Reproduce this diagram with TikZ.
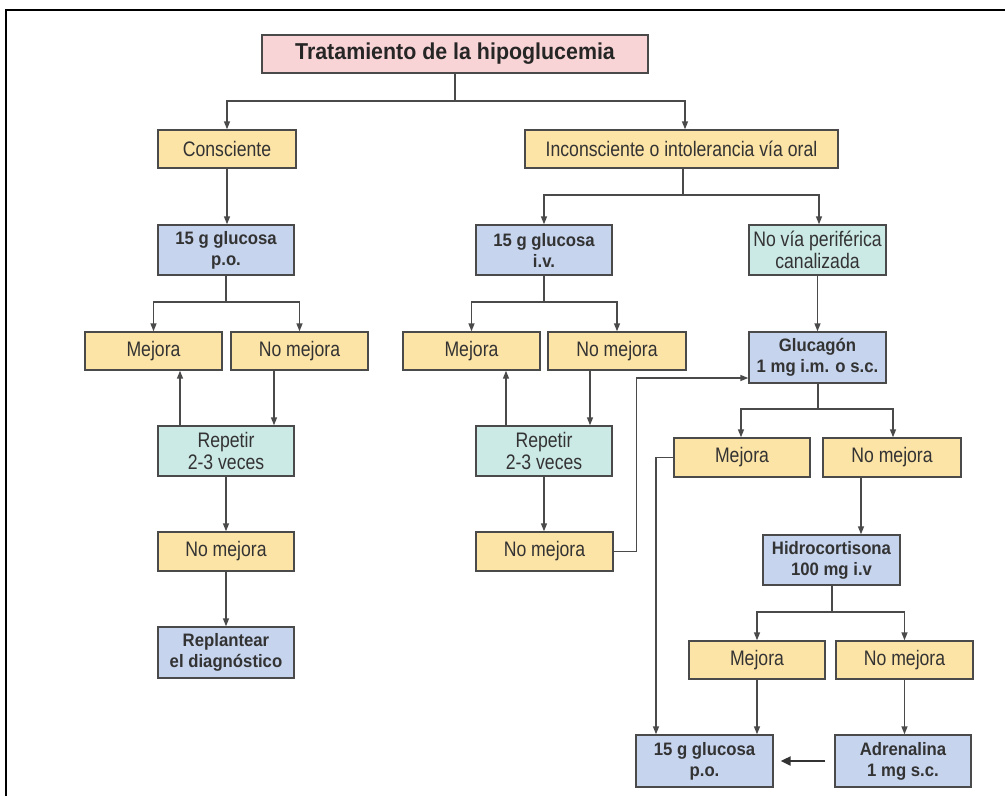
\documentclass[tikz,border=0pt]{standalone}
\usepackage{fontspec}
\setmainfont{Liberation Sans}[FakeStretch=0.84, BoldFeatures={FakeStretch=0.93}]
\usetikzlibrary{arrows.meta}
\definecolor{yel}{HTML}{FCE3A6}
\definecolor{blu}{HTML}{C6D4EE}
\definecolor{tea}{HTML}{CBE9E5}
\definecolor{pnk}{HTML}{F9D4D6}
\definecolor{edge}{HTML}{4A4A4A}
\definecolor{txt}{HTML}{333333}
\tikzset{
  box/.style={draw=edge, line width=1.4pt, inner sep=0pt, align=center, text=txt,
    font=\fontsize{21}{22}\selectfont},
  ybox/.style={box, fill=yel},
  bbox/.style={box, fill=blu, font=\fontsize{18}{21}\selectfont\bfseries},
  tbox/.style={box, fill=tea},
  ln/.style={draw=edge, line width=1.5pt},
  arr/.style={ln, -{Triangle[length=8pt,width=6pt]}},
  bigarr/.style={draw=txt, line width=2.2pt, -{Triangle[length=10pt,width=9pt]}},
}
\begin{document}
\begin{tikzpicture}[x=1pt,y=-1pt]
\useasboundingbox (0,0) rectangle (1005,796);
\draw[line width=2.2pt] (6,796) -- (6,10) -- (1005,10);
% nodes
\node[box, fill=pnk, minimum width=386pt, minimum height=38pt, font=\fontsize{23}{26}\selectfont\bfseries, text=black!85] (title) at (455,54) {Tratamiento de la hipoglucemia};
\node[ybox, minimum width=138pt, minimum height=38pt] (cons) at (227,149) {Consciente};
\node[ybox, minimum width=313pt, minimum height=38pt] (incons) at (681.5,149) {Inconsciente o intolerancia vía oral};
\node[bbox, minimum width=136pt, minimum height=50pt] (g1) at (226,250) {15 g glucosa\\p.o.};
\node[ybox, minimum width=137pt, minimum height=38pt] (m1) at (153.5,351) {Mejora};
\node[ybox, minimum width=137pt, minimum height=38pt] (nm1) at (299.5,351) {No mejora};
\node[tbox, minimum width=136pt, minimum height=50pt] (rep1) at (226,451) {Repetir\\2-3 veces};
\node[ybox, minimum width=136pt, minimum height=39pt] (nm1b) at (226,551.5) {No mejora};
\node[bbox, minimum width=136pt, minimum height=51pt] (repl) at (226,652.5) {Replantear\\el diagnóstico};
\node[bbox, minimum width=136pt, minimum height=50pt] (g2) at (544,250) {15 g glucosa\\i.v.};
\node[tbox, minimum width=137pt, minimum height=50pt] (nv) at (817.5,250) {No vía periférica\\canalizada};
\node[ybox, minimum width=137pt, minimum height=38pt] (m2) at (471.5,351) {Mejora};
\node[ybox, minimum width=138pt, minimum height=38pt] (nm2) at (617,351) {No mejora};
\node[tbox, minimum width=136pt, minimum height=50pt] (rep2) at (544,451) {Repetir\\2-3 veces};
\node[ybox, minimum width=137pt, minimum height=39pt] (nm2b) at (544.5,551.5) {No mejora};
\node[bbox, minimum width=137pt, minimum height=51pt] (glu) at (817.5,357.5) {Glucagón\\1 mg i.m. o s.c.};
\node[ybox, minimum width=136pt, minimum height=39pt] (m3) at (742,457.5) {Mejora};
\node[ybox, minimum width=138pt, minimum height=39pt] (nm3) at (892,457.5) {No mejora};
\node[bbox, minimum width=137pt, minimum height=50pt] (hid) at (831.5,560) {Hidrocortisona\\100 mg i.v};
\node[ybox, minimum width=136pt, minimum height=38pt] (m4) at (757,660) {Mejora};
\node[ybox, minimum width=137pt, minimum height=38pt] (nm4) at (904.5,660) {No mejora};
\node[bbox, minimum width=137pt, minimum height=52pt] (g3) at (704.5,761) {15 g glucosa\\p.o.};
\node[bbox, minimum width=136pt, minimum height=52pt] (adr) at (903,761) {Adrenalina\\1 mg s.c.};
% junctions
\coordinate (j0) at (455,101);
\coordinate (j1) at (226,302);
\coordinate (j2) at (683,195);
\coordinate (j2b) at (544,302);
\coordinate (j3) at (818,409);
\coordinate (j4) at (832,612);
% connectors
\draw[ln] (title.south -| j0) -- (j0);
\draw[arr] (j0) -| (cons);
\draw[arr] (j0) -| ([xshift=3.5pt]incons.north);
\draw[arr] (cons.south) -- (cons.south |- g1.north);
\draw[ln] (g1) -- (j1);
\draw[arr] (j1) -| (m1);
\draw[arr] (j1) -| (nm1);
\draw[arr] ([xshift=-46pt]rep1.north) -- ([xshift=-46pt]rep1.north |- m1.south);
\draw[arr] ([xshift=-25.5pt]nm1.south) -- ([xshift=-25.5pt]nm1.south |- rep1.north);
\draw[arr] (rep1) -- (nm1b);
\draw[arr] (nm1b) -- (repl);
\draw[ln] (incons.south -| j2) -- (j2);
\draw[arr] (j2) -| (g2);
\draw[arr] (j2) -| ([xshift=1.5pt]nv.north);
\draw[ln] (g2) -- (j2b);
\draw[arr] (j2b) -| (m2);
\draw[arr] (j2b) -| (nm2);
\draw[arr] ([xshift=-38pt]rep2.north) -- ([xshift=-38pt]rep2.north |- m2.south);
\draw[arr] ([xshift=-27pt]nm2.south) -- ([xshift=-27pt]nm2.south |- rep2.north);
\draw[arr] (rep2) -- (rep2.south |- nm2b.north);
\draw[arr] (nm2b.east) -- ++(23,0) |- ([yshift=-20.5pt]glu.west);
\draw[arr] (nv) -- (glu);
\draw[ln] (glu.south -| j3) -- (j3);
\draw[arr] (j3) -| ([xshift=-1pt]m3.north);
\draw[arr] (j3) -| ([xshift=1pt]nm3.north);
\draw[arr] ([xshift=-31pt]nm3.south) -- ([xshift=-31pt]nm3.south |- hid.north);
\draw[ln] (hid.south -| j4) -- (j4);
\draw[arr] (j4) -| (m4);
\draw[arr] (j4) -| (nm4);
\draw[arr] (m3.west) -| ([xshift=-48.5pt]g3.north);
\draw[arr] (m4.south) -- (m4.south |- g3.north);
\draw[arr] (nm4.south) -- (nm4.south |- adr.north);
\draw[bigarr] ([xshift=-9pt]adr.west) -- ([xshift=7pt]g3.east);
\end{tikzpicture}
\end{document}
